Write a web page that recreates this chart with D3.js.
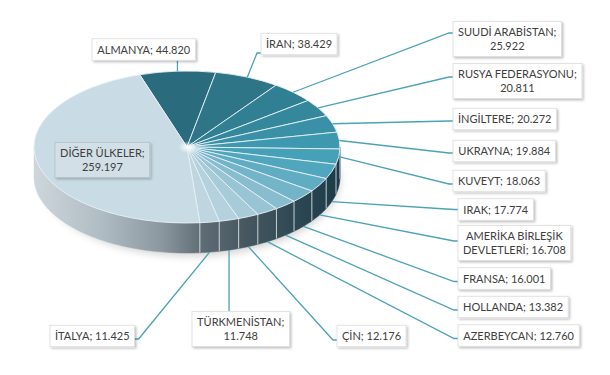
<!DOCTYPE html>
<html>
<head>
<meta charset="utf-8">
<script src="https://cdn.jsdelivr.net/npm/d3@7"></script>
<style>
  body { margin: 0; background: #fff; }
  svg { display: block; }
  text { font-family: Lato, "Open Sans", sans-serif; font-size: 11px; fill: #404040; }
</style>
</head>
<body>
<svg id="chart" width="610" height="375"></svg>
<script>
// countries, clockwise from the top
const names = ["ALMANYA", "İRAN", "SUUDİ ARABİSTAN", "RUSYA FEDERASYONU", "İNGİLTERE",
  "UKRAYNA", "KUVEYT", "IRAK", "AMERİKA BİRLEŞİK DEVLETLERİ", "FRANSA", "HOLLANDA",
  "AZERBEYCAN", "ÇİN", "TÜRKMENİSTAN", "İTALYA", "DİĞER ÜLKELER"];
const values = [44820, 38429, 25922, 20811, 20272, 19884, 18063, 17774, 16708, 16001,
  13382, 12760, 12176, 11748, 11425, 259197];
const colors = ["#2b6b7e", "#2e7588", "#317f93", "#35889c", "#3a91a7", "#3e99b0",
  "#46a0b8", "#50a6bd", "#60adc3", "#74b4c9", "#87bdcf", "#98c4d4", "#a8cbd9",
  "#b5d1dd", "#bfd6e0", "#c9dce5"];

// label boxes: left x, centre y, words on first line, where the leader joins
const labelPos = [
  {x: 92, y: 49.5, w1: 0, att: "b"},
  {x: 261, y: 44, w1: 0, att: "l", ay: 9},
  {x: 453, y: 39, w1: 2, att: "l", ay: -6},
  {x: 453, y: 81, w1: 2, att: "l", ay: -4},
  {x: 453, y: 119, w1: 0, att: "l", ay: 2},
  {x: 453, y: 151, w1: 0, att: "l", ay: 2},
  {x: 453, y: 181, w1: 0, att: "l", ay: 3},
  {x: 458, y: 209.5, w1: 0, att: "l", ay: 0},
  {x: 458, y: 243, w1: 2, att: "l", ay: -2},
  {x: 458, y: 278.5, w1: 0, att: "l", ay: 3},
  {x: 458, y: 307, w1: 0, att: "l", ay: 3},
  {x: 458, y: 335.5, w1: 0, att: "l", ay: 3},
  {x: 337, y: 336, w1: 0, att: "l", ay: 4},
  {x: 192, y: 329, w1: 1, att: "t"},
  {x: 50, y: 336, w1: 0, att: "r", ay: 3},
  {x: 55, y: 160, w1: 2, att: null}
];

const cx = 187, cy = 147, rx = 153, ry = 76, depth = 30;
const fmt = d3.formatLocale({decimal: ",", thousands: ".", grouping: [3], currency: ["", ""]}).format(",d");

const svg = d3.select("#chart");
const defs = svg.append("defs");

const sideGrad = defs.append("linearGradient")
  .attr("id", "sideGrad").attr("gradientUnits", "userSpaceOnUse")
  .attr("x1", cx - rx).attr("x2", cx + rx).attr("y1", 0).attr("y2", 0);
[[0, "#cdd6db"], [0.22, "#b0bcc3"], [0.42, "#8b979e"], [0.55, "#5e6c74"],
 [0.7, "#45565f"], [0.85, "#2e4954"], [1, "#1c3a47"]]
  .forEach(s => sideGrad.append("stop").attr("offset", s[0]).attr("stop-color", s[1]));

const glow = defs.append("radialGradient").attr("id", "glow");
glow.append("stop").attr("offset", 0).attr("stop-color", "#fff").attr("stop-opacity", 0.9);
glow.append("stop").attr("offset", 1).attr("stop-color", "#fff").attr("stop-opacity", 0);

defs.append("filter").attr("id", "blur").attr("x", "-20%").attr("y", "-50%")
  .attr("width", "140%").attr("height", "200%")
  .append("feGaussianBlur").attr("stdDeviation", 4);

const boxShadow = defs.append("filter").attr("id", "boxShadow")
  .attr("x", "-20%").attr("y", "-30%").attr("width", "140%").attr("height", "170%");
boxShadow.append("feDropShadow").attr("dx", 1.5).attr("dy", 1.5).attr("stdDeviation", 1.2)
  .attr("flood-color", "#000").attr("flood-opacity", 0.25);

const pie = d3.pie().sort(null).value(d => d)
  .startAngle(-18 * Math.PI / 180).endAngle(342 * Math.PI / 180);
const arcs = pie(values);

// shadow under the pie
svg.append("ellipse")
  .attr("cx", cx + 4).attr("cy", cy + depth + 3).attr("rx", rx - 4).attr("ry", ry)
  .attr("fill", "#000").attr("opacity", 0.18).attr("filter", "url(#blur)");

// side walls for the visible (front) half
const px = a => cx + rx * Math.sin(a);
const py = a => cy - ry * Math.cos(a);
const lo = Math.PI / 2, hi = 3 * Math.PI / 2;
const sidePath = (a0, a1) => {
  const n = Math.max(2, Math.ceil((a1 - a0) / 0.02));
  const angs = d3.range(n + 1).map(i => a0 + (a1 - a0) * i / n);
  const pts = angs.map(a => [px(a), py(a)])
    .concat(angs.slice().reverse().map(a => [px(a), py(a) + depth]));
  return d3.line()(pts) + "Z";
};

svg.append("g").selectAll("path")
  .data(arcs.filter(d => d.endAngle > lo && d.startAngle < hi))
  .join("path")
  .attr("d", d => sidePath(Math.max(d.startAngle, lo), Math.min(d.endAngle, hi)))
  .attr("fill", "url(#sideGrad)")
  .attr("stroke", "url(#sideGrad)").attr("stroke-width", 0.5);

// slice seams on the side
svg.append("g").selectAll("line")
  .data(arcs.filter(d => d.startAngle > lo && d.startAngle < hi))
  .join("line")
  .attr("x1", d => px(d.startAngle)).attr("x2", d => px(d.startAngle))
  .attr("y1", d => py(d.startAngle)).attr("y2", d => py(d.startAngle) + depth)
  .attr("stroke", "#e8eef1").attr("stroke-opacity", 0.8).attr("stroke-width", 1);

// top faces
const arc = d3.arc().innerRadius(0).outerRadius(rx);
svg.append("g")
  .attr("transform", `translate(${cx},${cy}) scale(1,${ry / rx})`)
  .selectAll("path")
  .data(arcs)
  .join("path")
  .attr("d", arc)
  .attr("fill", (d, i) => colors[i])
  .attr("stroke", "#e6f1f5").attr("stroke-width", 0.9)
  .attr("vector-effect", "non-scaling-stroke");

svg.append("ellipse").attr("cx", cx).attr("cy", cy).attr("rx", 9).attr("ry", 6)
  .attr("fill", "url(#glow)");

// labels
const labels = svg.append("g");
arcs.forEach((d, i) => {
  const lp = labelPos[i];
  const words = (names[i] + "; " + fmt(values[i])).split(" ");
  const lines = lp.w1 ? [words.slice(0, lp.w1).join(" "), words.slice(lp.w1).join(" ")]
    : [words.join(" ")];
  const g = labels.append("g");
  const rect = g.append("rect");
  const lh = 13.5;
  const txt = g.append("text").attr("text-anchor", "middle");
  lines.forEach((l, k) => {
    txt.append("tspan").attr("x", 0)
      .attr("y", lp.y + (k - (lines.length - 1) / 2) * lh + 4)
      .text(l);
  });
  const tw = txt.node().getBBox().width;
  const bw = tw + 10, bh = lines.length * lh + 8;
  const left = lp.x, top = lp.y - bh / 2;
  txt.selectAll("tspan").attr("x", left + bw / 2);
  rect.attr("x", left).attr("y", top).attr("width", bw).attr("height", bh)
    .attr("fill", lp.att ? "#fff" : "#d6e3ea")
    .attr("fill-opacity", lp.att ? 1 : 0.85)
    .attr("stroke", lp.att ? "#dcdcdc" : "#b3c0c6").attr("stroke-width", 0.8)
    .attr("filter", "url(#boxShadow)");

  if (!lp.att) return;
  const mid = (d.startAngle + d.endAngle) / 2;
  const front = mid > 100 * Math.PI / 180 && mid < 260 * Math.PI / 180;
  const ax = px(mid), ay = py(mid) + (front ? depth : 0);
  let pts;
  if (lp.att === "b") pts = [[ax, ay], [ax, top + bh]];
  else if (lp.att === "t") pts = [[ax, ay], [ax, top]];
  else if (lp.att === "l") {
    const yy = lp.y + lp.ay;
    pts = [[ax, ay], [left - 4, yy], [left, yy]];
  } else {
    const yy = lp.y + lp.ay;
    pts = [[ax, ay], [left + bw + 4, yy], [left + bw, yy]];
  }
  labels.insert("path", ":first-child")
    .attr("d", d3.line()(pts))
    .attr("fill", "none").attr("stroke", "#4ca2b6").attr("stroke-width", 1.3);
});
</script>
</body>
</html>
